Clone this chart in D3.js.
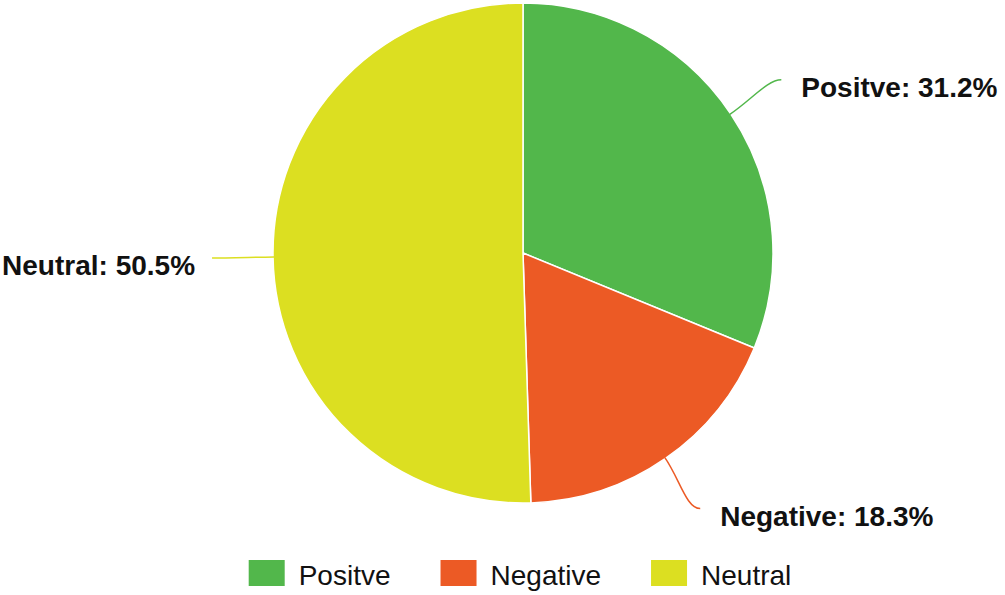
<!DOCTYPE html>
<html>
<head>
<meta charset="utf-8">
<script src="https://cdn.jsdelivr.net/npm/d3@7/dist/d3.min.js"></script>
<style>
  html, body { margin: 0; padding: 0; background: #fff; }
  svg { display: block; }
</style>
</head>
<body>
<svg id="chart" width="1005" height="595"></svg>
<script>
const categories = ["Positve", "Negative", "Neutral"];
const values = [31.2, 18.3, 50.5];
const colors = ["#52b74b", "#ec5a25", "#dcdf21"];

const W = 1005, H = 595;
const cx = 523, cy = 253, R = 250;
const svg = d3.select("#chart");

const data = categories.map((c, i) => ({ name: c, value: values[i], color: colors[i] }));
const pie = d3.pie().sort(null).value(d => d.value);
const arcs = pie(data);
const arc = d3.arc().innerRadius(0).outerRadius(R);

const g = svg.append("g").attr("transform", `translate(${cx},${cy})`);

g.selectAll("path.slice").data(arcs).enter().append("path")
  .attr("class", "slice")
  .attr("d", arc)
  .attr("fill", d => d.data.color)
  .attr("stroke", "#ffffff")
  .attr("stroke-width", 1.5)
  .attr("stroke-linejoin", "round");

// leader lines + labels
function pt(angle, r) { return [r * Math.sin(angle), -r * Math.cos(angle)]; }
arcs.forEach(d => {
  const mid = (d.startAngle + d.endAngle) / 2;
  const p0 = pt(mid, R - 1);
  const p1 = pt(mid, R + 25);
  const p2 = pt(mid, 311);
  const right = Math.sin(mid) > 0;
  const c2 = [p2[0] + (right ? -14 : 14), p2[1]];
  const path = d3.path();
  path.moveTo(p0[0], p0[1]);
  path.bezierCurveTo(p1[0], p1[1], c2[0], c2[1], p2[0], p2[1]);
  g.append("path")
    .attr("d", path.toString())
    .attr("fill", "none")
    .attr("stroke", d.data.color)
    .attr("stroke-width", 1.5);
  g.append("text")
    .attr("x", p2[0] + (right ? 20 : -17))
    .attr("y", p2[1] + 17)
    .attr("text-anchor", right ? "start" : "end")
    .attr("font-family", "'Liberation Sans', Arial, sans-serif")
    .attr("font-weight", "bold")
    .attr("font-size", 28)
    .attr("fill", "#111")
    .text(`${d.data.name}: ${d.data.value}%`);
});

// legend
const lg = svg.append("g");
let x = 0;
data.forEach(d => {
  const it = lg.append("g").attr("transform", `translate(${x},0)`);
  it.append("rect").attr("x", 0).attr("y", 560).attr("width", 36).attr("height", 26)
    .attr("fill", d.color);
  const t = it.append("text").attr("x", 50).attr("y", 585)
    .attr("font-family", "'Liberation Sans', Arial, sans-serif")
    .attr("font-size", 28).attr("fill", "#111").text(d.name);
  const w = t.node().getComputedTextLength();
  x += 50 + w + 50;
});
const total = x - 50;
lg.attr("transform", `translate(${520 - total / 2},0)`);
</script>
</body>
</html>
